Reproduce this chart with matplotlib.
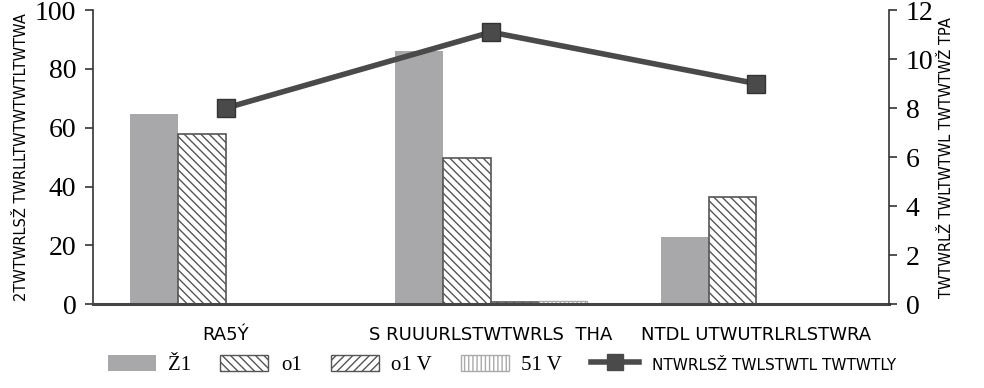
import numpy as np
import matplotlib.pyplot as plt
from matplotlib.lines import Line2D
from matplotlib.patches import Patch

# categories and series
categories = ["RA5Ý", "S RUUURLSTWTWRLS  THA", "NTDL UTWUTRLRLSTWRA"]
series_names = ["Ž1", "o1", "o1 V", "51 V"]
s1 = [64.6, 86.0, 22.8]
s2 = [57.8, 49.7, 36.4]
s3 = [0.0, 0.6, 0.0]
s4 = [0.0, 1.0, 0.0]
line_name = "NTWRLSŽ TWLSTWTL TWTWTLY"
line_vals = [8.0, 11.1, 9.0]

left_ticks = [0, 20, 40, 60, 80, 100]
right_ticks = [0, 2, 4, 6, 8, 10, 12]

plt.rcParams['font.family'] = ['Liberation Serif', 'DejaVu Serif']
plt.rcParams['hatch.linewidth'] = 1.0
plt.rcParams['hatch.color'] = '#555555'

fig = plt.figure(figsize=(9.84, 3.88), dpi=100)
ax = fig.add_axes([0.0945, 0.216, 0.809, 0.758])

x = np.arange(len(categories))
w = 0.18
edge = '#555555'
cond = ['DejaVu Sans Condensed', 'DejaVu Sans']
ax.bar(x - 1.5*w, s1, w, color='#a8a8aa', edgecolor='none', zorder=2)
ax.bar(x - 0.5*w, s2, w, color='white', edgecolor=edge, hatch='\\\\\\\\', linewidth=1.2, zorder=2)
ax.bar(x + 0.5*w, s3, w, color='white', edgecolor=edge, hatch='////', linewidth=1.2, zorder=2)
ax.bar(x + 1.5*w, s4, w, color='white', edgecolor='#aaaaaa', hatch='||||', linewidth=1.0, zorder=2)

ax.set_xlim(-0.5, 2.5)
ax.set_ylim(0, 100)
ax.set_yticks(left_ticks)
ax.set_yticklabels([str(t) for t in left_ticks], fontsize=20)
ax.set_xticks(x)
ax.set_xticklabels(categories, fontsize=13, family=cond)
ax.tick_params(axis='x', length=0, pad=16)
ax.tick_params(axis='y', length=6, width=1.2, color='#333333', pad=6)
ax.spines['top'].set_visible(False)
ax.spines['left'].set_color('#333333')
ax.spines['left'].set_linewidth(1.2)
ax.spines['bottom'].set_color('#444444')
ax.spines['bottom'].set_linewidth(2.2)
ax.spines['right'].set_visible(False)
ax.set_ylabel("2TWTWRLSŽ TWRLLTWTWTWTLTWTWA", fontsize=10.5, labelpad=4, family=cond)

ax2 = ax.twinx()
ax2.plot(x, line_vals, color='#4a4a4a', linewidth=4, marker='s', markersize=13,
         markerfacecolor='#4a4a4a', markeredgecolor='#333333', zorder=5)
ax2.set_ylim(0, 12)
ax2.set_yticks(right_ticks)
ax2.set_yticklabels([str(t) for t in right_ticks], fontsize=20)
ax2.tick_params(axis='y', length=6, width=1.2, color='#333333', pad=6)
ax2.spines['top'].set_visible(False)
ax2.spines['left'].set_visible(False)
ax2.spines['bottom'].set_visible(False)
ax2.spines['right'].set_color('#333333')
ax2.spines['right'].set_linewidth(1.2)
ax2.set_ylabel("TWTWRLŽ TWLTWTWL TWTWTWŽ TPA", fontsize=10.5, labelpad=4, family=cond)

handles = [
    Patch(facecolor='#a8a8aa', edgecolor='none'),
    Patch(facecolor='white', edgecolor=edge, hatch='\\\\\\\\'),
    Patch(facecolor='white', edgecolor=edge, hatch='////'),
    Patch(facecolor='white', edgecolor='#aaaaaa', hatch='||||'),
    Line2D([0], [0], color='#4a4a4a', linewidth=4, marker='s', markersize=11),
]
leg = fig.legend(handles, series_names + [line_name], loc='lower center', ncol=5,
                 bbox_to_anchor=(0.51, -0.015), frameon=False, fontsize=15,
                 handlelength=2.3, handleheight=0.8, columnspacing=1.4, handletextpad=0.6)
leg.get_texts()[4].set_fontfamily(cond)
leg.get_texts()[4].set_fontsize(11)

fig.savefig('out.png', dpi=100)
